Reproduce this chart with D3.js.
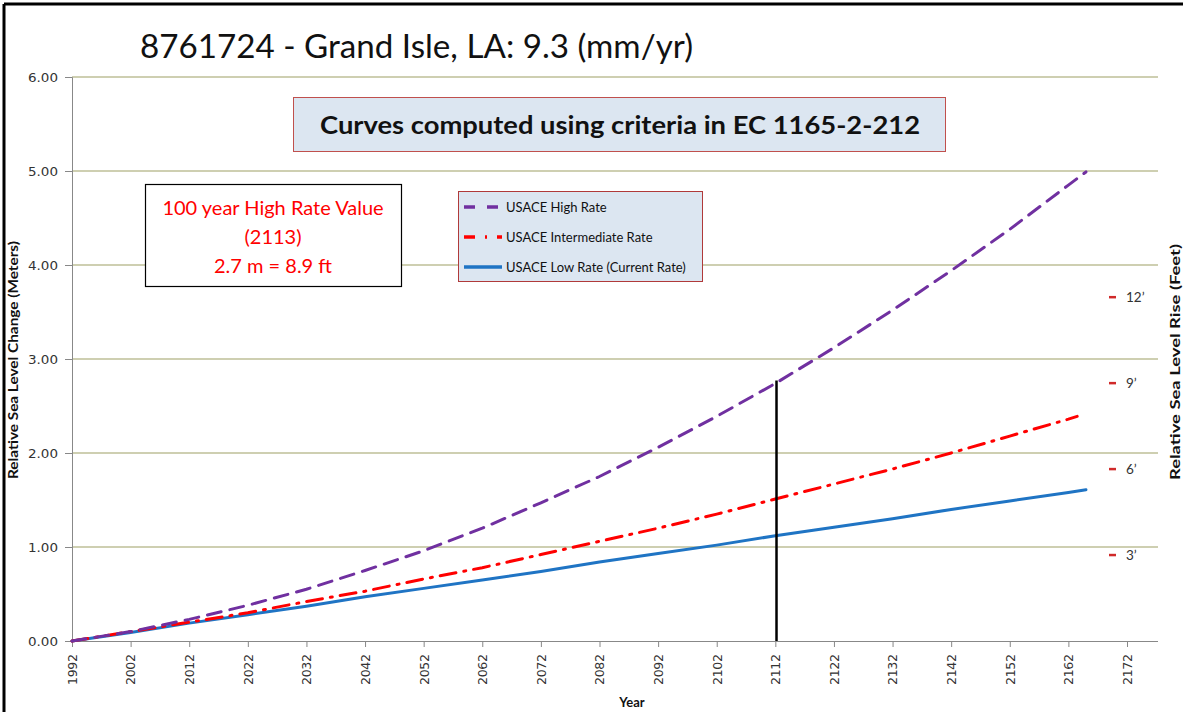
<!DOCTYPE html>
<html>
<head>
<meta charset="utf-8">
<script src="https://cdn.jsdelivr.net/npm/d3@7"></script>
<style>
  html, body { margin: 0; padding: 0; background: #fff; }
  svg { display: block; font-family: Lato, "Open Sans", sans-serif; }
</style>
</head>
<body>
<svg id="chart" width="1183" height="712"></svg>
<script>
// data
const years = [1992, 2002, 2012, 2022, 2032, 2042, 2052, 2062, 2072, 2082, 2092, 2102, 2112, 2122, 2132, 2142, 2152, 2162, 2165];
const highRate = [0, 0.10, 0.23, 0.38, 0.55, 0.75, 0.96, 1.20, 1.47, 1.75, 2.06, 2.39, 2.74, 3.12, 3.52, 3.94, 4.38, 4.85, 4.99];
const interYears = [1992, 2002, 2012, 2022, 2032, 2042, 2052, 2062, 2072, 2082, 2092, 2102, 2112, 2122, 2132, 2142, 2152, 2162, 2163.5];
const intermediateRate = [0, 0.10, 0.20, 0.30, 0.42, 0.53, 0.66, 0.78, 0.92, 1.06, 1.20, 1.35, 1.51, 1.67, 1.83, 2.00, 2.18, 2.36, 2.39];
const lowRate = [0, 0.09, 0.19, 0.28, 0.37, 0.47, 0.56, 0.65, 0.74, 0.84, 0.93, 1.02, 1.12, 1.21, 1.30, 1.40, 1.49, 1.58, 1.61];
const xTicks = [1992, 2002, 2012, 2022, 2032, 2042, 2052, 2062, 2072, 2082, 2092, 2102, 2112, 2122, 2132, 2142, 2152, 2162, 2172];
const yTicks = [0, 1, 2, 3, 4, 5, 6];
const feetMarks = [3, 6, 9, 12];
const markerYear = 2112.2;
const markerValue = 2.77;
const seriesNames = ['USACE High Rate', 'USACE Intermediate Rate', 'USACE Low Rate (Current Rate)'];
const noteLines = ['100 year High Rate Value', '(2113)', '2.7 m = 8.9 ft'];

(function() {
  const svg = d3.select('#chart');
  const left = 72, right = 1158, top = 77, bottom = 641;

  const x = d3.scaleLinear().domain([1992, 2172]).range([left, 1127]);
  const y = d3.scaleLinear().domain([0, 6]).range([bottom, top]);

  // outer frame (top + left visible)
  svg.append('line').attr('x1', 4).attr('x2', 1183).attr('y1', 4).attr('y2', 4)
    .attr('stroke', '#000').attr('stroke-width', 3);
  svg.append('line').attr('x1', 4).attr('x2', 4).attr('y1', 4).attr('y2', 712)
    .attr('stroke', '#000').attr('stroke-width', 3);

  // title
  svg.append('text').attr('x', 140).attr('y', 58)
    .attr('font-size', 33).attr('fill', '#111')
    .attr('textLength', 553).attr('lengthAdjust', 'spacingAndGlyphs')
    .text('8761724 - Grand Isle, LA: 9.3 (mm/yr)');

  // gridlines
  svg.append('g').selectAll('line').data(yTicks.filter(d => d > 0)).join('line')
    .attr('x1', left).attr('x2', right)
    .attr('y1', d => y(d)).attr('y2', d => y(d))
    .attr('stroke', '#9ea064').attr('stroke-width', 1.2);

  // left axis
  const yAxis = d3.axisLeft(y).tickValues(yTicks).tickFormat(d3.format('.2f')).tickSize(7).tickPadding(7);
  const gy = svg.append('g').attr('transform', `translate(${left},0)`).call(yAxis);
  gy.select('.domain').attr('stroke', '#888');
  gy.selectAll('.tick line').attr('stroke', '#888');
  gy.selectAll('.tick text').attr('font-size', 13).attr('fill', '#333')
    .attr('font-family', '"DejaVu Sans", Verdana, sans-serif')
    .attr('textLength', 30).attr('lengthAdjust', 'spacingAndGlyphs');

  // bottom axis
  const xAxis = d3.axisBottom(x).tickValues(xTicks).tickFormat(d3.format('d')).tickSize(6).tickSizeOuter(0);
  const gx = svg.append('g').attr('transform', `translate(0,${bottom})`).call(xAxis);
  gx.select('.domain').attr('d', `M${left},0.5H${right}`).attr('stroke', '#888');
  gx.selectAll('.tick line').attr('stroke', '#888');
  gx.selectAll('.tick text')
    .attr('font-size', 12.5).attr('fill', '#333')
    .attr('font-family', '"DejaVu Sans", Verdana, sans-serif')
    .attr('transform', 'rotate(-90)')
    .attr('text-anchor', 'end')
    .attr('textLength', 31).attr('lengthAdjust', 'spacing')
    .attr('x', -13).attr('y', 0).attr('dy', '0.35em');

  // axis titles
  svg.append('text').attr('transform', `translate(18,360) rotate(-90)`)
    .attr('text-anchor', 'middle').attr('font-size', 13.5).attr('font-weight', 'bold')
    .attr('fill', '#111').attr('textLength', 238).attr('lengthAdjust', 'spacingAndGlyphs')
    .text('Relative Sea Level Change  (Meters)');
  svg.append('text').attr('transform', `translate(1180,362) rotate(-90)`)
    .attr('text-anchor', 'middle').attr('font-size', 13.5).attr('font-weight', 'bold')
    .attr('fill', '#111').attr('textLength', 236).attr('lengthAdjust', 'spacingAndGlyphs')
    .text('Relative Sea Level Rise (Feet)');
  svg.append('text').attr('x', 632).attr('y', 707).attr('text-anchor', 'middle')
    .attr('font-size', 13).attr('font-weight', 'bold').attr('fill', '#111').text('Year');

  // series lines
  const line = d3.line().x(d => x(d[0])).y(d => y(d[1]));
  const series = [
    { name: seriesNames[0], xs: years, vals: highRate, color: '#7030a0', dash: '14,9' },
    { name: seriesNames[1], xs: interYears, vals: intermediateRate, color: '#ff0000', dash: '16,8,2,8' },
    { name: seriesNames[2], xs: years, vals: lowRate, color: '#1f74c4', dash: null }
  ];
  series.slice().reverse().forEach(s => {
    svg.append('path')
      .datum(s.xs.map((yr, i) => [yr, s.vals[i]]))
      .attr('d', line)
      .attr('fill', 'none')
      .attr('stroke', s.color)
      .attr('stroke-width', 3)
      .attr('stroke-linecap', 'round')
      .attr('stroke-dasharray', s.dash);
  });

  // 2113 marker
  svg.append('line')
    .attr('x1', x(markerYear)).attr('x2', x(markerYear))
    .attr('y1', y(0)).attr('y2', y(markerValue))
    .attr('stroke', '#000').attr('stroke-width', 2.5);

  // feet marks on the right
  const ft = svg.append('g').selectAll('g').data(feetMarks).join('g')
    .attr('transform', d => `translate(0,${y(d * 0.3048)})`);
  ft.append('line').attr('x1', 1109).attr('x2', 1116).attr('stroke', '#d02a2a').attr('stroke-width', 2.5);
  ft.append('text').attr('x', 1126).attr('dy', '0.35em').attr('font-size', 13.5).attr('fill', '#333')
    .text(d => d + '\u2019');

  // criteria box
  svg.append('rect').attr('x', 293.5).attr('y', 97.5).attr('width', 652).attr('height', 54)
    .attr('fill', '#dce6f1').attr('stroke', '#c0504d').attr('stroke-width', 1);
  svg.append('text').attr('x', 620).attr('y', 134).attr('text-anchor', 'middle')
    .attr('font-size', 25).attr('font-weight', 'bold').attr('fill', '#111')
    .attr('textLength', 600).attr('lengthAdjust', 'spacingAndGlyphs')
    .text('Curves computed using criteria in EC 1165-2-212');

  // legend
  svg.append('rect').attr('x', 458.5).attr('y', 191.5).attr('width', 244).attr('height', 90)
    .attr('fill', '#dce6f1').attr('stroke', '#b03a3a').attr('stroke-width', 1);
  const lg = svg.append('g').selectAll('g').data(series).join('g')
    .attr('transform', (d, i) => `translate(464,${207 + i * 30})`);
  lg.append('line').attr('x1', 0).attr('x2', 38)
    .attr('stroke', d => d.color).attr('stroke-width', 3.5)
    .attr('stroke-dasharray', (d, i) => i === 0 ? '11,12' : i === 1 ? '11,10,2,10' : null);
  lg.append('text').attr('x', 42).attr('dy', '0.35em').attr('font-size', 13).attr('fill', '#111')
    .text(d => d.name);

  // note box
  svg.append('rect').attr('x', 145.5).attr('y', 184.5).attr('width', 256).attr('height', 102)
    .attr('fill', '#fff').attr('stroke', '#000').attr('stroke-width', 1.2);
  svg.append('g').selectAll('text').data(noteLines).join('text')
    .attr('x', 273).attr('y', (d, i) => 215 + i * 29)
    .attr('text-anchor', 'middle').attr('font-size', 20).attr('fill', '#ff0000')
    .text(d => d);
})();
</script>
</body>
</html>
